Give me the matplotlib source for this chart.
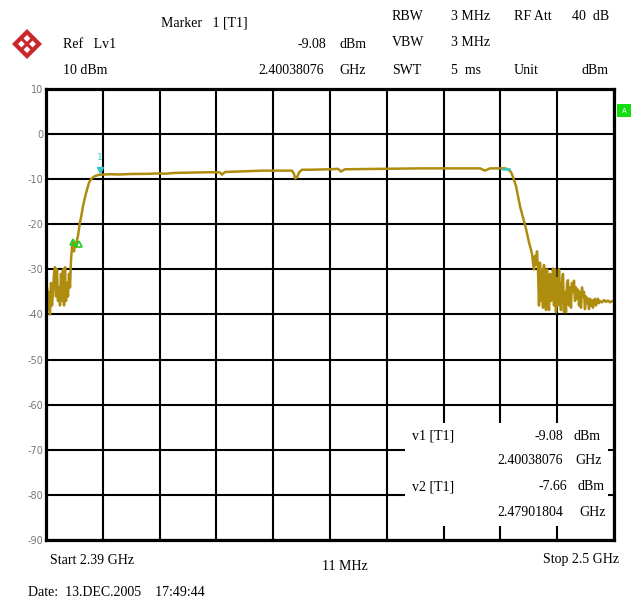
import matplotlib
matplotlib.use("Agg")
import matplotlib.pyplot as plt
from matplotlib.patches import Rectangle, Polygon

# ---------------- data ----------------
start_mhz = 2390.0
stop_mhz = 2500.0
span_per_div = 11.0
ref_level = 10
y_ticks = [10, 0, -10, -20, -30, -40, -50, -60, -70, -80, -90]

freq_mhz = [
    2390.00, 2390.10, 2390.19, 2390.39, 2390.58, 2390.77, 2390.97, 2391.16, 2391.36, 2391.55,
    2391.74, 2391.94, 2392.13, 2392.32, 2392.52, 2392.71, 2392.90, 2393.10, 2393.29, 2393.49,
    2393.68, 2393.87, 2394.07, 2394.26, 2394.45, 2394.65, 2394.84, 2395.04, 2395.23, 2395.42,
    2395.62, 2395.81, 2396.00, 2396.20, 2396.39, 2396.58, 2396.78, 2397.16, 2397.55, 2397.94,
    2398.33, 2398.71, 2399.10, 2399.49, 2400.07, 2400.46,
    2402.39, 2404.30, 2406.27, 2410.14, 2412.08, 2413.00, 2414.98, 2419.82, 2422.00, 2423.70,
    2424.08, 2424.66, 2429.51, 2432.02, 2435.32, 2437.64, 2438.03, 2438.22, 2438.61, 2439.00,
    2439.58, 2441.13, 2445.00, 2446.55, 2447.13, 2447.90, 2454.68, 2462.43, 2470.17, 2474.05,
    2475.02, 2475.98, 2478.89, 2479.47, 2480.05, 2480.44, 2481.02, 2481.80, 2482.38, 2482.96,
    2483.54, 2484.12,
    2484.31, 2484.51, 2484.70, 2484.89, 2485.09, 2485.28, 2485.47, 2485.67, 2485.86, 2486.06,
    2486.25, 2486.44, 2486.64, 2486.83, 2487.02, 2487.22, 2487.41, 2487.60, 2487.80, 2487.99,
    2488.19, 2488.38, 2488.57, 2488.77, 2488.96, 2489.15, 2489.35, 2489.54, 2489.73, 2489.93,
    2490.12, 2490.32, 2490.51, 2490.70, 2490.90, 2491.09, 2491.28, 2491.48, 2491.67, 2491.86,
    2492.06, 2492.25, 2492.45, 2492.64, 2492.83, 2493.03, 2493.22, 2493.41, 2493.61, 2493.80,
    2493.99, 2494.19, 2494.38, 2494.58, 2494.77, 2494.96, 2495.16, 2495.35, 2495.54, 2495.74,
    2495.93, 2496.12, 2496.32, 2496.51, 2496.71, 2496.90, 2497.09, 2497.29, 2497.67, 2498.06,
    2498.45, 2498.84, 2499.22, 2499.61, 2500.00,
]
level_dbm = [
    -37, -40, -34, -39, -35, -40, -33, -38, -35, -31,
    -29.5, -36, -30, -37, -34, -38, -31, -37, -30, -38,
    -29.5, -37, -33, -36, -31, -34, -28, -25, -24, -26,
    -24.5, -25, -23.5, -22.5, -21, -19.5, -18.5, -16, -14, -12.3,
    -10.8, -10, -9.6, -9.3, -9.1, -9.0,
    -8.9, -8.95, -8.85, -8.8, -8.7, -8.8, -8.6, -8.5, -8.45, -8.5,
    -9.0, -8.4, -8.2, -8.1, -8.1, -8.1, -8.8, -9.8, -9.6, -8.5,
    -7.9, -7.9, -7.8, -7.7, -8.3, -7.8, -7.7, -7.6, -7.6, -7.6,
    -8.1, -7.6, -7.6, -7.8, -8.4, -9.5, -11.5, -16, -18.5, -21,
    -24, -26.5,
    -28.5, -30, -27, -29, -26, -30, -38, -28.5, -37, -30,
    -38.5, -29, -36, -39, -30, -34, -39, -31, -37, -35,
    -29.8, -38, -30, -39.5, -32, -38, -30, -35, -39, -33,
    -31, -39.5, -35, -39.5, -33, -32.4, -38, -34, -38.5, -33,
    -35, -32.5, -37, -34, -36.5, -34.5, -38, -35, -38.5, -34,
    -36, -35, -38.8, -36, -37.5, -36.5, -38.8, -36.5, -38, -36.8,
    -38.5, -37, -36.5, -38, -37, -36.5, -37.5, -37, -37.3, -36.8,
    -37.2, -36.9, -37.3, -37, -37.2,
]

marker1_f, marker1_lvl = 2400.38, -9.08
marker2_f, marker2_lvl = 2479.02, -7.66
green_mk_f = [2395.2, 2396.4]
green_mk_lvl = [-24.0, -24.3]

# ---------------- figure ----------------
W, H = 638, 601
fig = plt.figure(figsize=(W / 100, H / 100), dpi=100)
fig.patch.set_facecolor("white")

def px(x, y):
    return x / W, 1 - y / H

ax = fig.add_axes([46 / W, 1 - 540 / H, 568 / W, 451 / H])
ax.set_xlim(start_mhz, stop_mhz)
ax.set_ylim(-90, 10)
ax.set_xticks([start_mhz + span_per_div * k for k in range(11)])
ax.set_yticks(y_ticks)
ax.set_axisbelow(True)
ax.grid(True, color="black", linewidth=1.5)
ax.tick_params(length=0, labelbottom=False)
ax.set_yticklabels([str(v) for v in y_ticks], fontsize=7, color="#777777",
                   family="DejaVu Sans")
ax.tick_params(axis="y", pad=2)
for s in ax.spines.values():
    s.set_linewidth(2.3)
    s.set_zorder(5)

# marker info box covering the grid
ax.add_patch(Rectangle((2459.5, -86.9), 39.4, 22.8, facecolor="white",
                       edgecolor="none", zorder=1))

# trace
ax.plot(freq_mhz, level_dbm, color="#ae8c0e", linewidth=1.8, zorder=3)

# markers
ax.plot([marker1_f], [marker1_lvl + 1.2], marker="v", color="#33c8c8",
        markersize=5, linestyle="none", zorder=4)
ax.text(marker1_f, marker1_lvl + 3.0, "1", color="#33c8c8", fontsize=6.5,
        ha="center", va="bottom", zorder=4)
ax.plot([marker2_f - 0.6, marker2_f + 0.6], [marker2_lvl, marker2_lvl],
        color="#33c8c8", linewidth=1.8, zorder=4)
ax.plot(green_mk_f, green_mk_lvl, marker="^", color="#22cc22", markersize=4,
        linestyle="none", zorder=4, markerfacecolor="none", markeredgewidth=1.2)

serif = "Liberation Serif"
fs = 10

def t(x, y, s, ha="left", size=fs, **kw):
    fig.text(*px(x, y), s, ha=ha, va="center", fontsize=size, family=serif, **kw)

# header
t(161, 23, "Marker   1 [T1]")
t(63, 45, "Ref   Lv1")
t(63, 71, "10 dBm")
t(298, 45, "-9.08")
t(366, 45, "dBm", ha="right")
t(258, 71, "2.40038076")
t(366, 71, "GHz", ha="right")
t(392, 17, "RBW")
t(392, 42, "VBW")
t(392, 70, "SWT")
t(451, 17, "3 MHz")
t(451, 42, "3 MHz")
t(451, 70, "5  ms")
t(514, 17, "RF Att")
t(514, 70, "Unit")
t(609, 17, "40  dB", ha="right")
t(609, 70, "dBm", ha="right")

# marker box text
t(412, 436, "v1 [T1]")
t(563, 436, "-9.08", ha="right")
t(601, 436, "dBm", ha="right")
t(497, 461, "2.40038076")
t(602, 461, "GHz", ha="right")
t(412, 487, "v2 [T1]")
t(567, 487, "-7.66", ha="right")
t(605, 487, "dBm", ha="right")
t(497, 513, "2.47901804")
t(606, 513, "GHz", ha="right")

# bottom
t(50, 560, "Start 2.39 GHz")
t(322, 567, "11 MHz")
t(619, 559, "Stop 2.5 GHz", ha="right")
t(28, 593, "Date:  13.DEC.2005    17:49:44")

# green "A" indicator
fig.patches.append(Rectangle(px(617, 117), 14 / W, 13 / H, facecolor="#11dd11",
                             edgecolor="none", transform=fig.transFigure))
fig.text(*px(624, 110.5), "A", ha="center", va="center", fontsize=5,
         color="white", family="DejaVu Sans")

# R&S logo (red diamond)
cx, cy, r = 27, 44, 15
diamond = Polygon([px(cx, cy - r), px(cx + r, cy), px(cx, cy + r), px(cx - r, cy)],
                  closed=True, facecolor="#c8282c", edgecolor="none",
                  transform=fig.transFigure)
fig.patches.append(diamond)
inner = Polygon([px(cx, cy - 9), px(cx + 9, cy), px(cx, cy + 9), px(cx - 9, cy)],
                closed=True, facecolor="white", edgecolor="none",
                transform=fig.transFigure)
fig.patches.append(inner)
for (x0, y0, x1, y1) in [(cx - 6, cy - 6, cx + 6, cy + 6), (cx - 6, cy + 6, cx + 6, cy - 6)]:
    fig.lines.append(plt.Line2D([x0 / W, x1 / W], [1 - y0 / H, 1 - y1 / H],
                                color="#c8282c", linewidth=2.2,
                                transform=fig.transFigure))

fig.savefig("out.png", dpi=100)
